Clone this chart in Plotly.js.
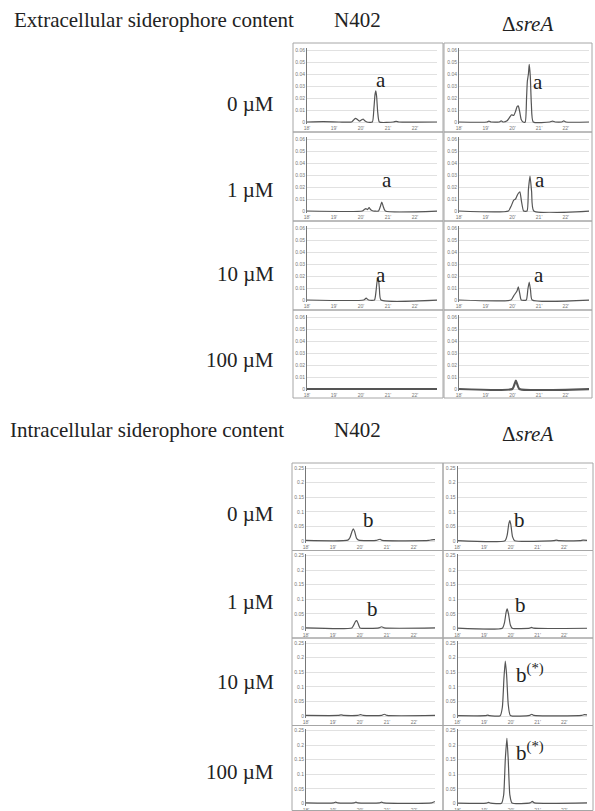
<!DOCTYPE html>
<html><head><meta charset="utf-8">
<script src="https://cdn.plot.ly/plotly-3.0.1.min.js"></script>
<style>html,body{margin:0;padding:0;background:#fff}#chart{width:595px;height:811px}</style>
</head><body><div id="chart"></div>
<script>
// ---------- tick labels / categories ----------
const timeTicks = [18, 19, 20, 21, 22];
const timeTickText = ["18'", "19'", "20'", "21'", "22'"];
const extTicks = [0, 0.01, 0.02, 0.03, 0.04, 0.05, 0.06];
const extTickText = ["0", "0.01", "0.02", "0.03", "0.04", "0.05", "0.06"];
const intTicks = [0, 0.05, 0.1, 0.15, 0.2, 0.25];
const intTickText = ["0", "0.05", "0.1", "0.15", "0.2", "0.25"];
const concentrations = ["0 µM", "1 µM", "10 µM", "100 µM"];
const strains = ["N402", "Δ<i>sreA</i>"];
const sectionTitles = ["Extracellular siderophore content", "Intracellular siderophore content"];

// ---------- extracellular chromatograms (time in min, absorbance) ----------
const ext_N402_0_t = [18, 18.6, 19.2, 19.65, 19.74, 19.8, 19.87, 19.95, 20.02, 20.08, 20.14, 20.22, 20.42, 20.48, 20.52, 20.55, 20.58, 20.62, 20.68, 21.2, 21.3, 21.4, 22.9];
const ext_N402_0_v = [0, 0.0003, 0, 0, 0.002, 0.003, 0.002, 0.0008, 0.0018, 0.0025, 0.001, 0, 0, 0.012, 0.023, 0.026, 0.021, 0.008, 0, 0, 0.0006, 0, 0];
const ext_sreA_0_t = [18, 19.05, 19.12, 19.2, 19.5, 19.58, 19.66, 19.8, 19.9, 19.97, 20.05, 20.12, 20.18, 20.22, 20.27, 20.33, 20.4, 20.48, 20.53, 20.56, 20.6, 20.63, 20.67, 20.71, 20.78, 21.4, 21.5, 21.6, 21.85, 21.92, 22, 22.9];
const ext_sreA_0_v = [0, 0, 0.0008, 0, 0, 0.001, 0, 0.001, 0.004, 0.006, 0.0055, 0.009, 0.013, 0.0135, 0.009, 0.002, 0, 0, 0.02, 0.034, 0.04, 0.048, 0.038, 0.015, 0, 0, 0.0008, 0, 0, 0.001, 0, 0];
const ext_N402_1_t = [18, 20.05, 20.12, 20.18, 20.24, 20.3, 20.36, 20.45, 20.65, 20.72, 20.77, 20.82, 20.9, 22.9];
const ext_N402_1_v = [0, 0, 0.0012, 0.002, 0.0012, 0.0028, 0.001, 0, 0, 0.004, 0.0075, 0.004, 0, 0];
const ext_sreA_1_t = [18, 19.85, 19.95, 20.05, 20.12, 20.2, 20.28, 20.34, 20.42, 20.55, 20.6, 20.66, 20.72, 20.8, 22.9];
const ext_sreA_1_v = [0, 0, 0.004, 0.009, 0.01, 0.014, 0.016, 0.008, 0, 0, 0.018, 0.029, 0.016, 0, 0];
const ext_N402_10_t = [18, 20.1, 20.19, 20.28, 20.5, 20.56, 20.6, 20.64, 20.68, 20.74, 22.9];
const ext_N402_10_v = [0, 0, 0.0015, 0, 0, 0.008, 0.016, 0.018, 0.01, 0, 0];
const ext_sreA_10_t = [18, 19.95, 20.05, 20.13, 20.18, 20.22, 20.27, 20.33, 20.52, 20.58, 20.63, 20.68, 20.74, 22.9];
const ext_sreA_10_v = [0, 0, 0.0035, 0.006, 0.008, 0.011, 0.006, 0, 0, 0.009, 0.015, 0.008, 0, 0];
const ext_N402_100_t = [18, 22.9];
const ext_N402_100_v = [0, 0];
const ext_sreA_100_t = [18, 20.0, 20.08, 20.13, 20.18, 20.26, 22.9];
const ext_sreA_100_v = [0, 0, 0.004, 0.007, 0.004, 0, 0];

// ---------- intracellular chromatograms ----------
const int_N402_0_t = [18, 19.55, 19.63, 19.7, 19.75, 19.8, 19.87, 19.95, 20.6, 20.7, 20.75, 20.82, 22.55, 22.65, 22.72, 22.9];
const int_N402_0_v = [0.002, 0.003, 0.012, 0.032, 0.042, 0.033, 0.01, 0.003, 0.002, 0.005, 0.006, 0.002, 0.002, 0.004, 0.005, 0.003];
const int_sreA_0_t = [18, 19.78, 19.86, 19.92, 19.96, 20.0, 20.06, 20.14, 21.6, 21.7, 21.8, 22.6, 22.7, 22.9];
const int_sreA_0_v = [0.001, 0.001, 0.02, 0.058, 0.07, 0.055, 0.015, 0.001, 0.001, 0.003, 0.001, 0.001, 0.003, 0.002];
const int_N402_1_t = [18, 19.7, 19.78, 19.84, 19.88, 19.93, 20.0, 20.7, 20.8, 20.9, 22.9];
const int_N402_1_v = [0.002, 0.002, 0.014, 0.025, 0.027, 0.017, 0.002, 0.002, 0.006, 0.002, 0.002];
const int_sreA_1_t = [18, 19.68, 19.76, 19.82, 19.86, 19.91, 19.98, 20.05, 20.7, 20.77, 20.85, 22.9];
const int_sreA_1_v = [0.001, 0.001, 0.02, 0.055, 0.067, 0.05, 0.012, 0.001, 0.001, 0.004, 0.001, 0.001];
const int_N402_10_t = [18, 19.2, 19.3, 19.4, 19.92, 20.02, 20.12, 20.8, 20.9, 21.0, 22.9];
const int_N402_10_v = [0.002, 0.002, 0.004, 0.002, 0.002, 0.005, 0.002, 0.002, 0.006, 0.002, 0.002];
const int_sreA_10_t = [18, 19.05, 19.13, 19.2, 19.6, 19.68, 19.74, 19.79, 19.84, 19.9, 19.98, 20.7, 20.78, 20.86, 22.65, 22.75, 22.9];
const int_sreA_10_v = [0.001, 0.001, 0.003, 0.001, 0.001, 0.03, 0.13, 0.188, 0.14, 0.04, 0.002, 0.002, 0.006, 0.002, 0.002, 0.005, 0.003];
const int_N402_100_t = [18, 19.02, 19.1, 19.18, 19.78, 19.85, 19.92, 20.72, 20.8, 20.88, 22.65, 22.75, 22.9];
const int_N402_100_v = [0.002, 0.002, 0.005, 0.002, 0.002, 0.005, 0.002, 0.002, 0.005, 0.002, 0.002, 0.006, 0.005];
const int_sreA_100_t = [18, 19.08, 19.16, 19.24, 19.65, 19.73, 19.79, 19.85, 19.9, 19.96, 20.04, 20.72, 20.8, 20.88, 22.9];
const int_sreA_100_v = [0.001, 0.001, 0.004, 0.001, 0.001, 0.03, 0.15, 0.223, 0.15, 0.03, 0.002, 0.002, 0.007, 0.002, 0.002];

// peak labels: [section, row, col, text]
const peakLabels = [
  ["ext", 0, 0, "a"], ["ext", 0, 1, "a"],
  ["ext", 1, 0, "a"], ["ext", 1, 1, "a"],
  ["ext", 2, 0, "a"], ["ext", 2, 1, "a"],
  ["int", 0, 0, "b"], ["int", 0, 1, "b"],
  ["int", 1, 0, "b"], ["int", 1, 1, "b"],
  ["int", 2, 1, "b<sup>(*)</sup>"], ["int", 3, 1, "b<sup>(*)</sup>"]
];

// ---------- layout geometry (pixels) ----------
const W = 595, H = 811;
const geom = {
  ext: {cols: [{bx: [293, 443], px: [307, 437], ppm: 27}, {bx: [444, 592], px: [459, 589], ppm: 26.7}],
        rows: [43, 132, 221, 310], h: [89, 89, 89, 88], topOff: 7, zeroOff: 79, ymax: 0.06,
        ticks: extTicks, tickText: extTickText},
  int: {cols: [{bx: [292, 443], px: [306, 435], ppm: 27}, {bx: [443, 593], px: [457.5, 587], ppm: 26.7}],
        rows: [463, 550.5, 638, 725.5], h: [87.5, 87.5, 87.5, 85], topOff: 5, zeroOff: 78, ymax: 0.25,
        ticks: intTicks, tickText: intTickText}
};
const labelPos = { // peak label pixel centres
  ext: [[[381, 80], [538, 82]], [[387, 180], [540, 180]], [[381, 275], [539, 275]], [null, null]],
  int: [[[368, 520], [519, 520]], [[372, 609], [520, 605]], [null, [530, 673]], [null, [530, 751]]]
};
const concLabelY = {ext: [104, 190, 274, 360], int: [514, 602, 682, 772]};

const series = {
  ext: [[[ext_N402_0_t, ext_N402_0_v], [ext_sreA_0_t, ext_sreA_0_v]],
        [[ext_N402_1_t, ext_N402_1_v], [ext_sreA_1_t, ext_sreA_1_v]],
        [[ext_N402_10_t, ext_N402_10_v], [ext_sreA_10_t, ext_sreA_10_v]],
        [[ext_N402_100_t, ext_N402_100_v], [ext_sreA_100_t, ext_sreA_100_v]]],
  int: [[[int_N402_0_t, int_N402_0_v], [int_sreA_0_t, int_sreA_0_v]],
        [[int_N402_1_t, int_N402_1_v], [int_sreA_1_t, int_sreA_1_v]],
        [[int_N402_10_t, int_N402_10_v], [int_sreA_10_t, int_sreA_10_v]],
        [[int_N402_100_t, int_N402_100_v], [int_sreA_100_t, int_sreA_100_v]]]
};

const px = x => x / W;
const py = y => 1 - y / H;
const serif = "Liberation Serif, Times New Roman, serif";

const traces = [];
const layout = {
  width: W, height: H, margin: {l: 0, r: 0, t: 0, b: 0},
  paper_bgcolor: "#fff", plot_bgcolor: "#fff", showlegend: false,
  shapes: [], annotations: []
};

let n = 0;
["ext", "int"].forEach(sec => {
  const g = geom[sec];
  for (let r = 0; r < 4; r++) {
    for (let c = 0; c < 2; c++) {
      n++;
      const col = g.cols[c];
      const T = g.rows[r];
      const perPx = g.ymax / (g.zeroOff - g.topOff);
      const xid = n === 1 ? "x" : "x" + n, yid = n === 1 ? "y" : "y" + n;
      const xkey = n === 1 ? "xaxis" : "xaxis" + n, ykey = n === 1 ? "yaxis" : "yaxis" + n;
      layout[xkey] = {
        domain: [px(col.px[0]), px(col.px[1])],
        range: [18, 18 + (col.px[1] - col.px[0]) / col.ppm],
        anchor: yid, tickvals: timeTicks, ticktext: timeTickText, ticks: "",
        tickfont: {size: 5, color: "#777", family: "Arial"},
        showgrid: false, zeroline: false, showline: false, fixedrange: true
      };
      layout[ykey] = {
        domain: [py(T + g.zeroOff + 2), py(T + g.topOff - 2)],
        range: [-2 * perPx, g.ymax + 2 * perPx],
        anchor: xid, tickvals: g.ticks, ticktext: g.tickText, ticks: "",
        tickfont: {size: 5, color: "#777", family: "Arial"},
        showgrid: true, gridcolor: "#d9d9d9", gridwidth: 0.8,
        zeroline: false, showline: true, linecolor: "#777", linewidth: 1, fixedrange: true
      };
      const s = series[sec][r][c];
      const thick = (sec === "ext" && r === 3);
      traces.push({
        x: s[0], y: s[1], xaxis: xid, yaxis: yid, type: "scatter", mode: "lines",
        line: {color: "#555", width: thick ? 2.2 : 1.2, shape: "spline", smoothing: 0.5},
        hoverinfo: "skip"
      });
      // panel border
      layout.shapes.push({
        type: "rect", xref: "paper", yref: "paper",
        x0: px(col.bx[0]), x1: px(col.bx[1]), y0: py(T + g.h[r]), y1: py(T),
        line: {color: "#a6a6a6", width: 1}, fillcolor: "rgba(0,0,0,0)"
      });
      // peak label
      const lp = labelPos[sec][r][c];
      if (lp) {
        const lab = peakLabels.find(p => p[0] === sec && p[1] === r && p[2] === c);
        layout.annotations.push({
          xref: "paper", yref: "paper", x: px(lp[0]), y: py(lp[1]),
          xanchor: "center", yanchor: "middle", showarrow: false,
          text: lab[3], font: {family: serif, size: 21, color: "#222"}
        });
      }
    }
    // concentration label
    layout.annotations.push({
      xref: "paper", yref: "paper", x: px(276), y: py(concLabelY[sec][r]),
      xanchor: "right", yanchor: "middle", showarrow: false,
      text: concentrations[r], font: {family: serif, size: 21, color: "#222"}
    });
  }
});

// section headers
const headerY = [20, 430];
[0, 1].forEach(i => {
  layout.annotations.push({
    xref: "paper", yref: "paper", x: px(i === 0 ? 12 : 8), y: py(headerY[i]),
    xanchor: "left", yanchor: "middle", showarrow: false,
    text: sectionTitles[i], font: {family: serif, size: 21, color: "#222"}
  });
  layout.annotations.push({
    xref: "paper", yref: "paper", x: px(357), y: py(headerY[i]),
    xanchor: "center", yanchor: "middle", showarrow: false,
    text: strains[0], font: {family: serif, size: 21, color: "#222"}
  });
  layout.annotations.push({
    xref: "paper", yref: "paper", x: px(527), y: py(headerY[i] + 4),
    xanchor: "center", yanchor: "middle", showarrow: false,
    text: strains[1], font: {family: serif, size: 21, color: "#222"}
  });
});

Plotly.newPlot("chart", traces, layout, {staticPlot: true, displayModeBar: false});
</script>
</body></html>
